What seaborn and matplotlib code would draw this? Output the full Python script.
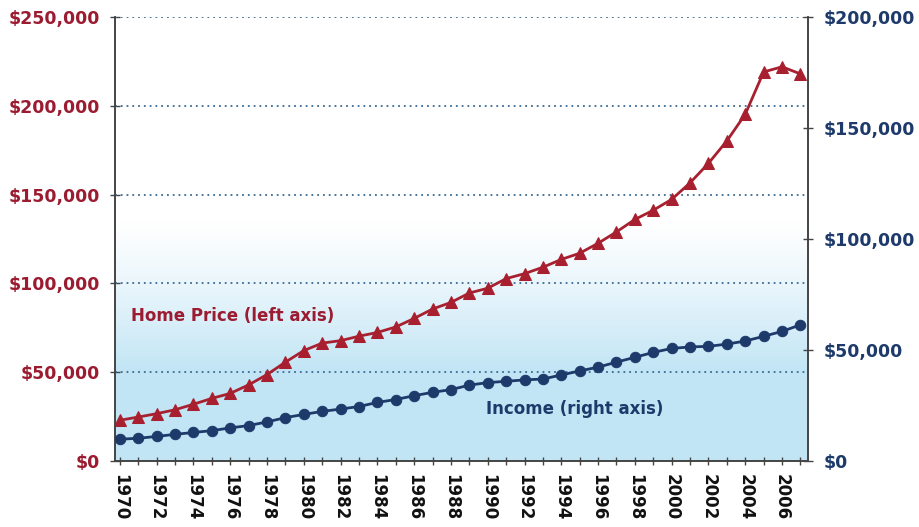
import numpy as np
import pandas as pd
import seaborn as sns
import matplotlib.pyplot as plt
from matplotlib.colors import LinearSegmentedColormap

years = list(range(1970, 2008))
home_price = [23000, 24800, 26700, 28900, 32000, 35300, 38100, 42900, 48700, 55700,
              62200, 66400, 67800, 70300, 72400, 75500, 80300, 85600, 89300, 94600,
              97300, 102700, 105500, 109100, 113500, 117000, 122600, 129000, 136000, 141200,
              147300, 156600, 167600, 180200, 195200, 219000, 221900, 217900]
income = [9867, 10285, 11116, 12051, 12902, 13719, 14958, 16009, 17640, 19587,
          21023, 22388, 23433, 24580, 26433, 27735, 29458, 30970, 32191, 34213,
          35353, 35939, 36573, 36959, 38782, 40611, 42300, 44568, 46737, 48950,
          50732, 51407, 51680, 52680, 54061, 56194, 58407, 61355]
left_ticks = [0, 50000, 100000, 150000, 200000, 250000]
right_ticks = [0, 50000, 100000, 150000, 200000]
year_ticks = list(range(1970, 2007, 2))

df = pd.DataFrame({"Year": years, "Home Price": home_price, "Income": income})

red = "#a8202f"
navy = "#1d3a6b"

sns.set_style("white")
plt.rcParams['font.family'] = ['DejaVu Sans']
plt.rcParams['font.weight'] = 'bold'

fig = plt.figure(figsize=(9.19, 5.27), dpi=100)
ax = fig.add_axes([0.125, 0.125, 0.754, 0.843])
ax2 = ax.twinx()

x0, x1 = 1969.73, 2007.4
ax.set_xlim(x0, x1)
ax.set_ylim(0, 250000)
ax2.set_ylim(0, 200000)

# background gradient: light blue at bottom fading to white
v = np.linspace(0, 250000, 300)
blend = np.clip((135000 - v) / 85000, 0, 1) ** 1.2
grad = blend.reshape(-1, 1)
cmap = LinearSegmentedColormap.from_list("bg", ["#ffffff", "#c2e5f5"])
ax.imshow(grad, extent=[x0, x1, 0, 250000], origin="lower", aspect="auto",
          cmap=cmap, vmin=0, vmax=1, zorder=0)

# dotted grid
for t in left_ticks[1:]:
    ax.axhline(t, color="#3a6a92", linestyle=(0, (1, 2.2)), linewidth=1.3, zorder=1)

sns.lineplot(data=df, x="Year", y="Home Price", ax=ax, color=red, linewidth=2,
             marker="^", markersize=9, markeredgecolor=red, zorder=3)
sns.lineplot(data=df, x="Year", y="Income", ax=ax2, color=navy, linewidth=2,
             marker="o", markersize=7.5, markeredgecolor=navy, zorder=3)

ax.set_xlabel("")
ax.set_ylabel("")
ax2.set_ylabel("")

ax.set_xticks(year_ticks)
ax.set_xticks(years, minor=True)
ax.set_xticklabels([str(y) for y in year_ticks], rotation=270, fontsize=12,
                   fontweight="bold", color="#111111")
ax.set_yticks(left_ticks)
ax.set_yticklabels(["$" + format(t, ",") for t in left_ticks], fontsize=12.5,
                   fontweight="bold", color="#9b1b30")
ax2.set_yticks(right_ticks)
ax2.set_yticklabels(["$" + format(t, ",") for t in right_ticks], fontsize=12.5,
                    fontweight="bold", color=navy)

ax.tick_params(axis="x", which="both", direction="inout", length=6, width=1,
               color="#444444", pad=6, bottom=True)
ax.tick_params(axis="y", direction="inout", length=7, width=1, color="#444444", pad=7, left=True)
ax2.tick_params(axis="y", direction="inout", length=7, width=1, color="#444444", pad=8, right=True)

for a in (ax, ax2):
    a.spines["top"].set_visible(False)
    for s in ("left", "right", "bottom"):
        a.spines[s].set_color("#444444")
        a.spines[s].set_linewidth(1.2)

ax.text(1970.6, 79000, "Home Price (left axis)", color="#9b1b30", fontsize=12,
        fontweight="bold")
ax2.text(1989.9, 21000, "Income (right axis)", color=navy, fontsize=12,
         fontweight="bold")

fig.savefig("out.png", dpi=100)
